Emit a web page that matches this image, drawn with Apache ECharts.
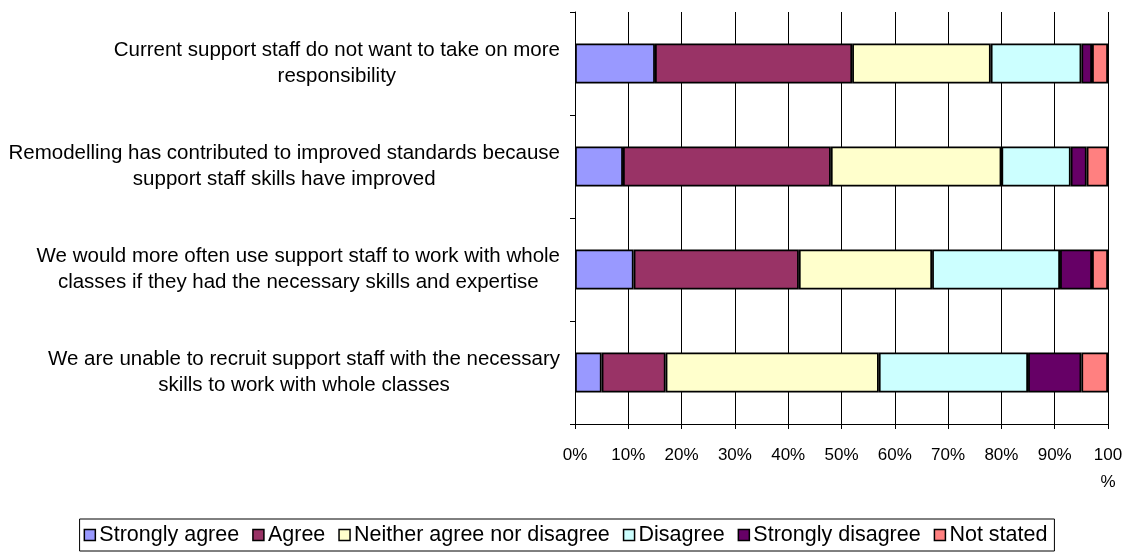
<!DOCTYPE html>
<html>
<head>
<meta charset="utf-8">
<script src="https://cdn.jsdelivr.net/npm/echarts@6/dist/echarts.min.js"></script>
<style>
html,body{margin:0;padding:0;background:#fff;}
#c{width:1131px;height:556px;}
</style>
</head>
<body>
<div id="c"></div>
<script>
const categories = [
  "Current support staff do not want to take on more\nresponsibility",
  "Remodelling has contributed to improved standards because\nsupport staff skills have improved",
  "We would more often use support staff to work with whole\nclasses if they had the necessary skills and expertise",
  "We are unable to recruit support staff with the necessary\nskills to work with whole classes"
];
const seriesNames = ["Strongly agree", "Agree", "Neither agree nor disagree", "Disagree", "Strongly disagree", "Not stated"];
const stronglyAgree    = [15,  9, 11,  5];
const agree            = [37, 39, 31, 12];
const neither          = [26, 32, 25, 40];
const disagree         = [17, 13, 24, 28];
const stronglyDisagree = [ 2,  3,  6, 10];
const notStated        = [ 3,  4,  3,  5];
const xTickLabels = ["0%", "10%", "20%", "30%", "40%", "50%", "60%", "70%", "80%", "90%", "100\n%"];

const colors = ["#9999FF", "#993366", "#FFFFCC", "#CCFFFF", "#660066", "#FF8080"];
const values = [stronglyAgree, agree, neither, disagree, stronglyDisagree, notStated];
const font = "Liberation Sans, Arial, sans-serif";

const chart = echarts.init(document.getElementById('c'));
chart.setOption({
  animation: false,
  textStyle: { fontFamily: font, color: '#000' },
  grid: { left: 575, right: 23, top: 12, bottom: 132, containLabel: false },
  xAxis: {
    type: 'value', min: 0, max: 100, interval: 10,
    axisLine: { show: true, lineStyle: { color: '#000', width: 1 } },
    axisTick: { show: true, length: 5, lineStyle: { color: '#000', width: 1 } },
    splitLine: { show: true, lineStyle: { color: '#000', width: 1 } },
    axisLabel: {
      color: '#000', fontSize: 17, fontFamily: font, margin: 18, lineHeight: 27,
      showMinLabel: true, showMaxLabel: true, align: 'center', verticalAlign: 'top',
      formatter: function (v) { return xTickLabels[Math.round(v / 10)]; }
    }
  },
  yAxis: {
    type: 'category', data: categories, inverse: true,
    axisLine: { show: true, lineStyle: { color: '#000', width: 1 } },
    axisTick: { show: true, length: 5, lineStyle: { color: '#000', width: 1 } },
    splitLine: { show: false },
    axisLabel: {
      color: '#000', fontSize: 20.5, fontFamily: font, margin: 15, lineHeight: 26,
      formatter: function (v) {
        return v.split('\n').map(function (s) { return '{c|' + s + '}'; }).join('\n');
      },
      rich: { c: { align: 'center', fontSize: 20.5, fontFamily: font, color: '#000', lineHeight: 26 } }
    }
  },
  legend: {
    bottom: 5, left: 'center',
    data: seriesNames,
    itemWidth: 11, itemHeight: 11, itemGap: 13,
    icon: 'rect',
    padding: [5, 7, 5, 4],
    borderColor: '#000', borderWidth: 1,
    itemStyle: { borderColor: '#000', borderWidth: 1.5 },
    textStyle: { color: '#000', fontSize: 21.5, fontFamily: font, padding: [0, 0, 0, -1] }
  },
  series: seriesNames.map(function (name, i) {
    return {
      name: name, type: 'bar', stack: 'total', barWidth: 40,
      data: values[i],
      itemStyle: { color: colors[i], borderColor: '#000', borderWidth: 1.8 }
    };
  })
});
</script>
</body>
</html>
